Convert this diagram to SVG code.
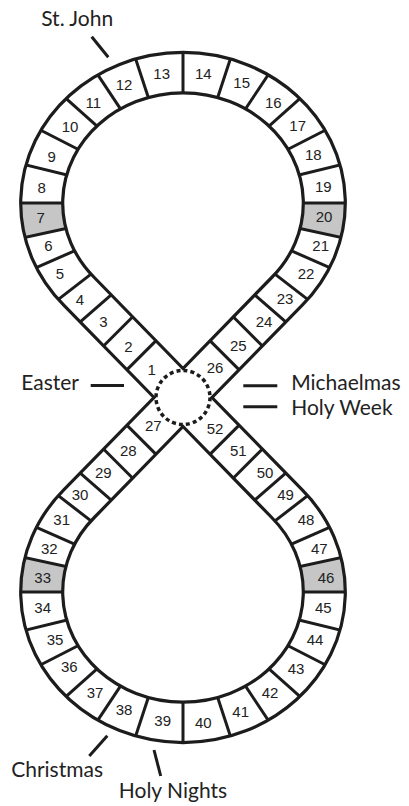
<svg xmlns="http://www.w3.org/2000/svg" xmlns:xlink="http://www.w3.org/1999/xlink" width="409" height="806" viewBox="0 0 409 806">
<style>
.o{fill:none;stroke:#1c1c1c;stroke-width:3.2;stroke-linejoin:miter}
.d line{stroke:#1c1c1c;stroke-width:3}
.t{stroke:#1c1c1c;stroke-width:3}
.g{fill:#c6c6c6}
.n{font-family:"Liberation Sans",Arial,sans-serif;font-size:15px;fill:#222;text-anchor:middle}
.l{font-family:Lato,"Open Sans",sans-serif;font-size:21px;fill:#222}
</style>
<defs>
<path id="band" d="M154,397.5 L64,305.3 A162.3,150.5 0 1 1 302,305.3 L212,397.5 L302,489.7 A162.3,150.5 0 1 1 64,489.7 Z M183,368.5 L94.3,277.5 A120.3,110.2 0 1 1 271.7,277.5 Z M183,426.5 L271.7,517.5 A120.3,110.2 0 1 1 94.3,517.5 Z"/>
<clipPath id="clip"><use xlink:href="#band" clip-rule="evenodd"/></clipPath>
</defs>
<rect width="409" height="806" fill="#fff"/>
<use xlink:href="#band" fill="#fff" fill-rule="evenodd"/>
<g id="board" clip-path="url(#clip)">
<g id="gray">
<polygon class="g" points="183,203 3,203 7.14,241.34"/>
<polygon class="g" points="183,203 363,203 358.86,241.34"/>
<polygon class="g" points="183,592 3,592 7.14,553.66"/>
<polygon class="g" points="183,592 363,592 358.86,553.66"/>
</g>
<g id="divTop" class="d">
<line x1="183" y1="108" x2="183" y2="23"/>
<line x1="153.33" y1="112.75" x2="126.79" y2="32"/>
<line x1="130.43" y1="123.87" x2="83.39" y2="53.08"/>
<line x1="112.18" y1="139.68" x2="48.81" y2="83.03"/>
<line x1="98.43" y1="159.73" x2="22.76" y2="121.01"/>
<line x1="90.66" y1="180.67" x2="8.04" y2="160.68"/>
<line x1="88" y1="203" x2="3" y2="203"/>
<line x1="90.18" y1="223.24" x2="7.14" y2="241.34"/>
<line x1="96.07" y1="241.33" x2="18.3" y2="275.6"/>
<line x1="107.84" y1="261.09" x2="40.58" y2="313.07"/>
<line x1="65.62" y1="334.67" x2="118.38" y2="288.63"/>
<line x1="95.52" y1="354.02" x2="139.52" y2="310.02"/>
<line x1="119.07" y1="377.57" x2="163.07" y2="333.57"/>
<line x1="212.67" y1="112.75" x2="239.21" y2="32"/>
<line x1="235.57" y1="123.87" x2="282.61" y2="53.08"/>
<line x1="253.82" y1="139.68" x2="317.19" y2="83.03"/>
<line x1="267.57" y1="159.73" x2="343.24" y2="121.01"/>
<line x1="275.34" y1="180.67" x2="357.96" y2="160.68"/>
<line x1="278" y1="203" x2="363" y2="203"/>
<line x1="275.82" y1="223.24" x2="358.86" y2="241.34"/>
<line x1="269.93" y1="241.33" x2="347.7" y2="275.6"/>
<line x1="258.16" y1="261.09" x2="325.42" y2="313.07"/>
<line x1="300.38" y1="334.67" x2="247.62" y2="288.63"/>
<line x1="270.48" y1="354.02" x2="226.48" y2="310.02"/>
<line x1="246.93" y1="377.57" x2="202.93" y2="333.57"/>
</g>
<use id="divBottom" xlink:href="#divTop" transform="translate(0,795) scale(1,-1)"/>
</g>
<use id="outline" xlink:href="#band" class="o"/>
<circle id="center" cx="183" cy="397.5" r="27" fill="none" stroke="#1c1c1c" stroke-width="3.5" stroke-dasharray="4 3.0686"/>
<g id="ticks">
<line class="t" x1="91.7" y1="36.7" x2="108.3" y2="57.3"/>
<line class="t" x1="90.7" y1="385.5" x2="124" y2="385.5"/>
<line class="t" x1="243.3" y1="385.7" x2="277.3" y2="385.7"/>
<line class="t" x1="243.3" y1="406.7" x2="277.3" y2="406.7"/>
<line class="t" x1="89.3" y1="756" x2="107.3" y2="735.7"/>
<line class="t" x1="154" y1="750" x2="160.7" y2="776"/>
</g>
<g id="labels">
<text class="l" x="41.2" y="26">St. John</text>
<text class="l" x="21.2" y="389.5">Easter</text>
<text class="l" x="291.2" y="390">Michaelmas</text>
<text class="l" x="291.2" y="415">Holy Week</text>
<text class="l" x="11.2" y="777.3">Christmas</text>
<text class="l" x="118.8" y="798.3">Holy Nights</text>
</g>
<g id="numbers">
<text class="n" x="151.7" y="374.7">1</text>
<text class="n" x="128.3" y="352.1">2</text>
<text class="n" x="103.3" y="327.1">3</text>
<text class="n" x="80" y="305.4">4</text>
<text class="n" x="60" y="279.4">5</text>
<text class="n" x="48.3" y="251.4">6</text>
<text class="n" x="40.7" y="222.7">7</text>
<text class="n" x="41.7" y="192.7">8</text>
<text class="n" x="51.7" y="162.1">9</text>
<text class="n" x="70" y="132.1">10</text>
<text class="n" x="93.3" y="107.7">11</text>
<text class="n" x="124" y="90.4">12</text>
<text class="n" x="161.7" y="79.4">13</text>
<text class="n" x="203.3" y="79.4">14</text>
<text class="n" x="241.7" y="88.1">15</text>
<text class="n" x="273.3" y="107.7">16</text>
<text class="n" x="297.7" y="131.4">17</text>
<text class="n" x="313.3" y="159.7">18</text>
<text class="n" x="323.3" y="192.1">19</text>
<text class="n" x="324" y="222.1">20</text>
<text class="n" x="320.7" y="251.4">21</text>
<text class="n" x="306" y="278.7">22</text>
<text class="n" x="285" y="303.7">23</text>
<text class="n" x="264" y="327.1">24</text>
<text class="n" x="238.3" y="351.1">25</text>
<text class="n" x="215" y="372.7">26</text>
<text class="n" x="153.3" y="431.4">27</text>
<text class="n" x="128.3" y="456.1">28</text>
<text class="n" x="103.3" y="478.1">29</text>
<text class="n" x="80" y="500.4">30</text>
<text class="n" x="61.7" y="524.7">31</text>
<text class="n" x="49.3" y="553.7">32</text>
<text class="n" x="42.7" y="582.7">33</text>
<text class="n" x="42.7" y="612.7">34</text>
<text class="n" x="55" y="644.7">35</text>
<text class="n" x="69.3" y="672.1">36</text>
<text class="n" x="95" y="697.7">37</text>
<text class="n" x="124" y="714.7">38</text>
<text class="n" x="162.7" y="726.1">39</text>
<text class="n" x="203.3" y="727.7">40</text>
<text class="n" x="240.7" y="717.1">41</text>
<text class="n" x="270" y="697.7">42</text>
<text class="n" x="296" y="673.7">43</text>
<text class="n" x="315" y="645.4">44</text>
<text class="n" x="323.3" y="612.7">45</text>
<text class="n" x="326" y="582.7">46</text>
<text class="n" x="319.3" y="553.7">47</text>
<text class="n" x="306" y="524.7">48</text>
<text class="n" x="285.5" y="500.4">49</text>
<text class="n" x="265" y="478.1">50</text>
<text class="n" x="238.3" y="456.1">51</text>
<text class="n" x="215" y="433.7">52</text>
</g>
</svg>
